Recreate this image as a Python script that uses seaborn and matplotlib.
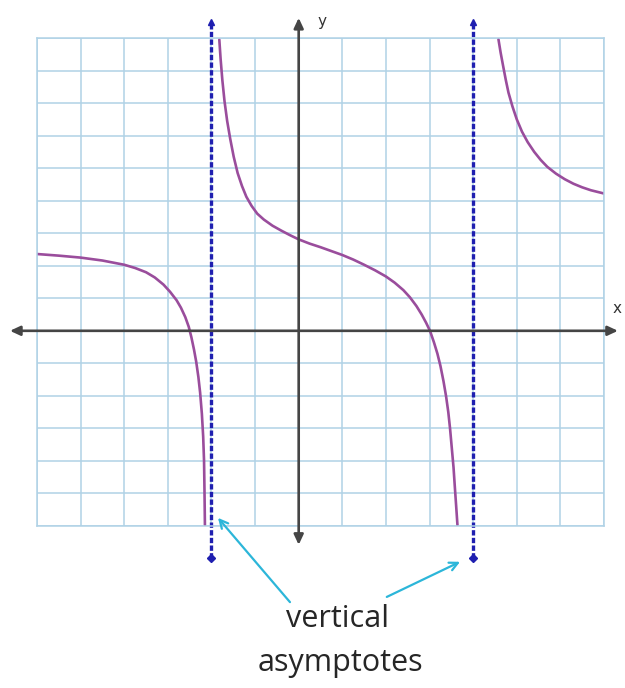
import matplotlib
matplotlib.use('Agg')
import matplotlib.pyplot as plt
import seaborn as sns

# 곡선 데이터
left_x = [-6.0, -5.5, -5.0, -4.5, -4.0, -3.75, -3.5, -3.3, -3.1, -2.95, -2.8, -2.7, -2.6, -2.52, -2.46, -2.4,
          -2.35, -2.3, -2.26, -2.22, -2.19, -2.17, -2.16, -2.15]
left_y = [2.36, 2.31, 2.25, 2.16, 2.03, 1.93, 1.80, 1.64, 1.42, 1.20, 0.94, 0.71, 0.42, 0.12, -0.2, -0.58,
          -0.95, -1.42, -1.9, -2.55, -3.25, -4.0, -4.9, -5.97]

mid_x = [-1.82, -1.79, -1.75, -1.70, -1.64, -1.57, -1.49, -1.40, -1.30, -1.20, -1.08, -0.95, -0.8, -0.6, -0.4,
         -0.2, 0.0, 0.25, 0.5, 0.75, 1.0, 1.25, 1.5, 1.75, 2.0, 2.2, 2.4, 2.55, 2.7, 2.82, 2.92, 3.01, 3.1,
         3.18, 3.25, 3.32, 3.38, 3.43, 3.47, 3.51, 3.55, 3.58, 3.61, 3.64]
mid_y = [8.95, 8.35, 7.7, 7.05, 6.45, 5.9, 5.35, 4.85, 4.45, 4.12, 3.84, 3.6, 3.42, 3.23, 3.08,
         2.94, 2.81, 2.68, 2.57, 2.45, 2.33, 2.19, 2.03, 1.86, 1.67, 1.48, 1.25, 1.03, 0.76, 0.5, 0.25, 0.0, -0.35,
         -0.7, -1.08, -1.55, -2.02, -2.5, -3.0, -3.6, -4.2, -4.8, -5.38, -5.97]

right_x = [4.58, 4.63, 4.69, 4.75, 4.81, 4.9, 5.0, 5.12, 5.25, 5.4, 5.55, 5.7, 5.9, 6.1, 6.3, 6.5, 6.7, 6.85, 7.0]
right_y = [8.96, 8.55, 8.12, 7.7, 7.32, 6.9, 6.5, 6.12, 5.8, 5.5, 5.25, 5.04, 4.83, 4.66, 4.52, 4.41, 4.32, 4.27, 4.22]

asymptotes = [-2, 4]
grid_x = list(range(-6, 8))
grid_y = list(range(-6, 10))

sns.set_style('white')

fig = plt.figure(figsize=(6.25, 6.88), dpi=100)
ax = fig.add_axes([37 / 625, (688 - 526) / 688, 567 / 625, 488 / 688])
ax.set_xlim(-6, 7)
ax.set_ylim(-6, 9)

# 격자
ax.set_xticks(grid_x)
ax.set_yticks(grid_y)
ax.grid(True, color='#b0d2e6', linewidth=1.1)
ax.tick_params(length=0, labelbottom=False, labelleft=False)
for s in ax.spines.values():
    s.set_color('#b0d2e6')
    s.set_linewidth(1.1)

# 좌표축 (양쪽 화살표)
axis_kw = dict(arrowstyle='<|-|>,head_length=0.6,head_width=0.28', color='#454545', lw=1.9, shrinkA=0, shrinkB=0)
ax.annotate('', xy=(-6.62, 0), xytext=(7.32, 0), arrowprops=axis_kw, annotation_clip=False)
ax.annotate('', xy=(0, 9.62), xytext=(0, -6.58), arrowprops=axis_kw, annotation_clip=False)
ax.text(0.42, 9.5, 'y', fontsize=11, color='#333333', va='center', ha='left', clip_on=False)
ax.text(7.2, 0.68, 'x', fontsize=11, color='#333333', va='center', ha='left', clip_on=False)

# 점근선
for a in asymptotes:
    ax.plot([a, a], [-6.98, 9.49], color='#1f1fb0', lw=2.4, linestyle=(0, (1.6, 0.7)), clip_on=False)
    ax.plot(a, 9.49, marker='^', color='#1f1fb0', markersize=5, clip_on=False)
    ax.plot(a, -6.98, marker='D', color='#1f1fb0', markersize=4, clip_on=False)

# 곡선
curve_color = '#9a4d9c'
for xs, ys in [(left_x, left_y), (mid_x, mid_y), (right_x, right_y)]:
    sns.lineplot(x=xs, y=ys, sort=False, estimator=None, color=curve_color, linewidth=1.9, ax=ax)

# 설명 화살표와 글자
arrow_kw = dict(arrowstyle='->,head_length=0.6,head_width=0.3', color='#2cb6d9', lw=1.6, shrinkA=0, shrinkB=0)
ax.annotate('', xy=(-1.85, -5.75), xytext=(-0.2, -8.34), arrowprops=arrow_kw, annotation_clip=False)
ax.annotate('', xy=(3.70, -7.10), xytext=(2.02, -8.18), arrowprops=arrow_kw, annotation_clip=False)
ax.text(0.88, -8.85, 'vertical', fontsize=22, family='Open Sans', color='#262626', ha='center', va='center', clip_on=False)
ax.text(0.95, -10.2, 'asymptotes', fontsize=22, family='Open Sans', color='#262626', ha='center', va='center', clip_on=False)

fig.savefig('out.png', dpi=100)
